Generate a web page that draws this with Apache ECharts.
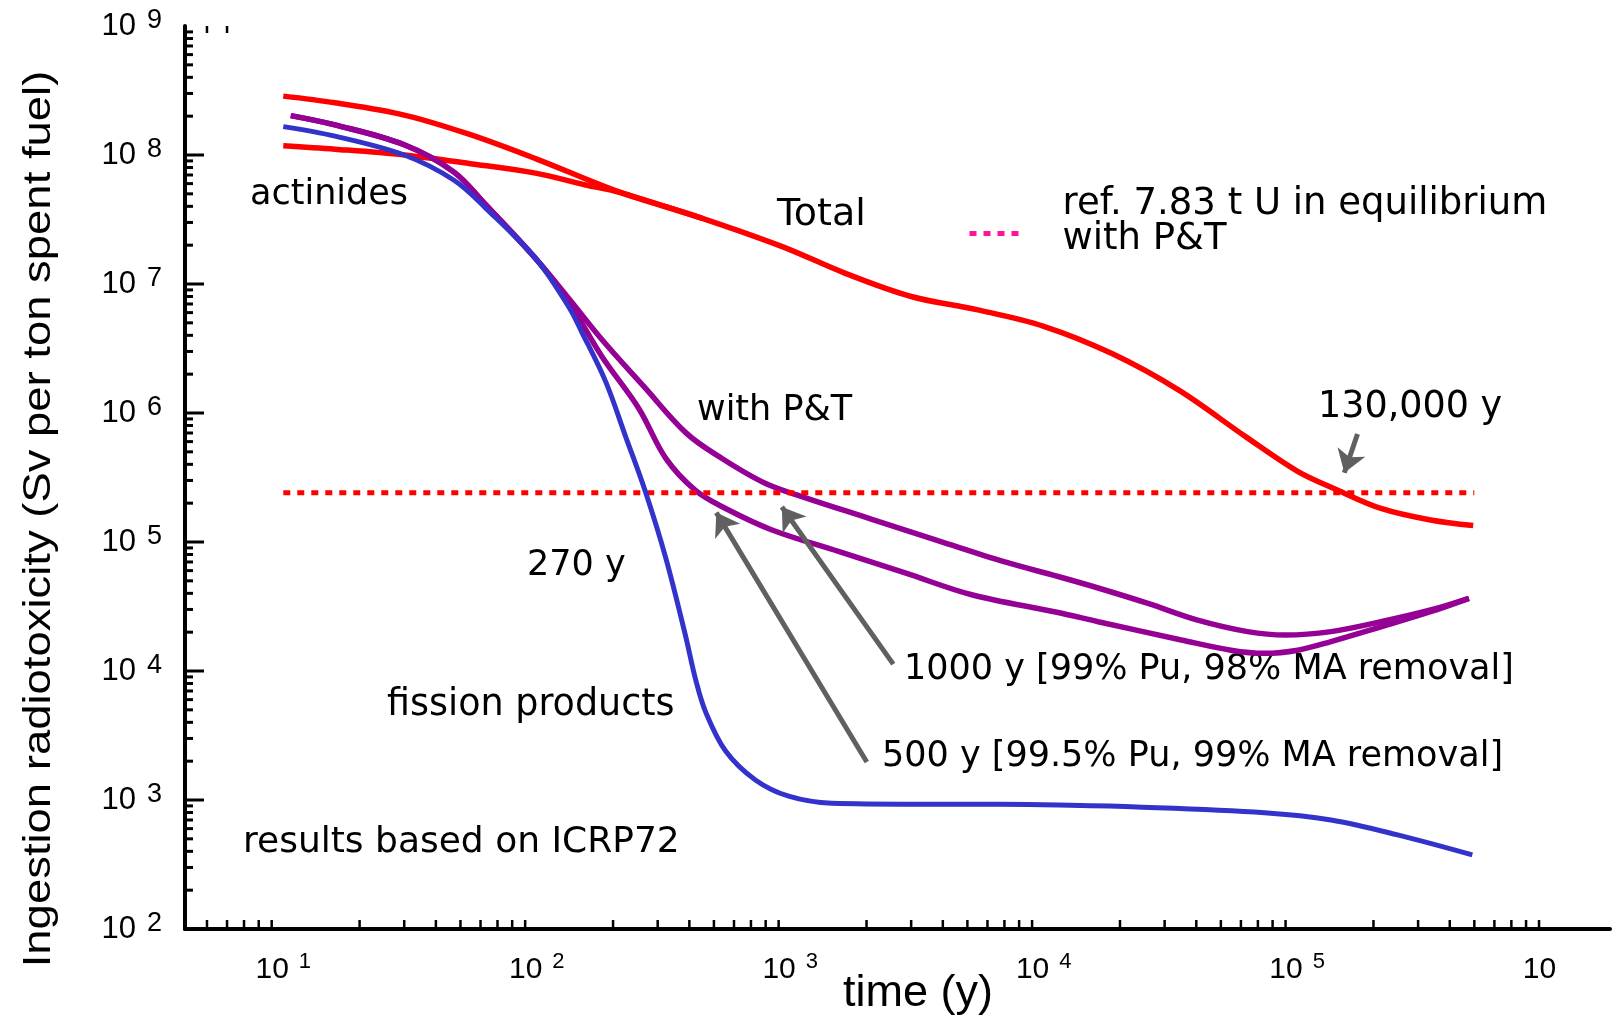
<!DOCTYPE html>
<html>
<head>
<meta charset="utf-8">
<script src="https://cdn.jsdelivr.net/npm/echarts@6/dist/echarts.min.js"></script>
<style>
  html, body { margin: 0; padding: 0; background: #fff; }
  #chart { width: 1613px; height: 1020px; }
</style>
</head>
<body>
<div id="chart"></div>
<script>
// axis ranges (years / Sv per ton)
var X_MIN = 4.095, X_MAX = 1714900;
var Y_MIN = 100, Y_MAX = 1e9;

// curves: [time (y), radiotoxicity]
var totalData = [
  [10, 2.86e8], [16, 2.54e8], [30, 2.04e8], [54, 1.45e8], [100, 9.3e7], [210, 5.2e7],
  [450, 3.23e7], [930, 1.95e7], [1650, 1.21e7], [3000, 8.0e6], [5500, 6.3e6], [10000, 4.7e6],
  [18500, 2.9e6], [34000, 1.51e6], [63000, 6.5e5], [100000, 3.55e5], [144000, 2.53e5],
  [214000, 1.82e5], [336000, 1.48e5], [495000, 1.34e5]
];
var actinideData = [
  [10, 1.18e8], [16, 1.11e8], [30, 1.0e8], [54, 8.6e7], [100, 7.2e7], [156, 5.85e7],
  [210, 5.15e7], [450, 3.22e7]
];
var fissionData = [
  [10, 1.66e8], [16, 1.40e8], [30, 1.0e8], [47, 6.4e7], [63, 3.86e7], [100, 1.54e7],
  [134, 6.6e6], [150, 4.3e6], [187, 1.75e6], [224, 6.6e5], [269, 2.42e5], [323, 7.5e4],
  [387, 1.85e4], [424, 8.5e3], [464, 4.8e3], [556, 2.4e3], [729, 1.43e3], [986, 1.07e3],
  [1460, 945], [3850, 927], [6620, 925], [11400, 916], [22200, 887], [74300, 798],
  [136000, 700], [249000, 536], [491000, 375]
];
// P&T, 1000 y [99% Pu, 98% MA removal]
var pt1000Data = [
  [10.7, 2.02e8], [16, 1.71e8], [30, 1.20e8], [47, 7.4e7], [63, 4.1e7], [100, 1.54e7],
  [134, 7.7e6], [181, 3.7e6], [265, 1.6e6], [390, 6.95e5], [538, 4.44e5], [800, 2.84e5],
  [1150, 2.2e5], [2100, 1.5e5], [3850, 1.02e5], [7030, 7.0e4], [11400, 5.4e4], [16400, 4.4e4],
  [25800, 3.34e4], [40500, 2.48e4], [63800, 2.02e4], [90000, 1.9e4], [136000, 2.02e4],
  [214000, 2.41e4], [336000, 2.97e4], [476000, 3.66e4]
];
// P&T, 500 y [99.5% Pu, 99% MA removal]
var pt500Data = [
  [10.7, 2.02e8], [16, 1.71e8], [30, 1.20e8], [47, 7.4e7], [63, 4.1e7], [100, 1.54e7],
  [134, 7.2e6], [181, 2.73e6], [253, 1.08e6], [323, 4.45e5], [424, 2.5e5], [556, 1.82e5],
  [848, 1.24e5], [1550, 8.45e4], [2840, 5.76e4], [5200, 3.9e4], [11400, 2.84e4],
  [16400, 2.41e4], [34900, 1.74e4], [54800, 1.45e4], [74300, 1.37e4], [100500, 1.45e4],
  [136000, 1.69e4], [214000, 2.2e4], [336000, 2.88e4], [476000, 3.66e4]
];
// reference level: 7.83 t U in equilibrium
var refData = [[10, 2.41e5], [500000, 2.41e5]];
var yellowDot = [[398, 1.51e4]];

// annotation arrows [tail, head]
var arrowData = [
  [[173000, 6.87e5], [153500, 3.44e5]],
  [[2550, 1.13e4], [927, 1.87e5]],
  [[2005, 1970], [511, 1.69e5]]
];

// ticks
var yMajorTicks = [1e2, 1e3, 1e4, 1e5, 1e6, 1e7, 1e8];
var minorSteps = [2, 3, 4, 5, 6, 7, 8, 9];
var yDecades = [1e2, 1e3, 1e4, 1e5, 1e6, 1e7, 1e8];
var xDecades = [1, 10, 100, 1000, 10000, 100000];
var topTicks = [5, 6];

var refName = 'ref. 7.83 t U in equilibrium\nwith P&T';

// text, x, y, font size
var notes = [
  ['actinides', 250, 195, 35],
  ['Total', 777, 215, 38],
  ['with P&T', 697, 411, 35],
  ['130,000 y', 1318, 408, 36.5],
  ['270 y', 527, 566, 35],
  ['1000 y [99% Pu, 98% MA removal]', 904, 670, 35],
  ['fission products', 387, 706, 36.5],
  ['500 y [99.5% Pu, 99% MA removal]', 882, 757, 35],
  ['results based on ICRP72', 243, 843, 36]
];

var yMinorTicks = [], xMinorTicks = [];
yDecades.forEach(function (d) { minorSteps.forEach(function (m) { yMinorTicks.push(m * d); }); });
xDecades.forEach(function (d) {
  minorSteps.forEach(function (m) { if (m * d > X_MIN && m * d < X_MAX) xMinorTicks.push(m * d); });
});

function powLabel(v, hideAbove) {
  var e = Math.log10(v), r = Math.round(e);
  if (Math.abs(e - r) > 1e-6) return '';
  if (hideAbove && r >= hideAbove) return '{b|10}{h|' + r + '}';
  return '{b|10}{e|' + r + '}';
}

function tickSeries(data, width) {
  return {
    type: 'custom',
    silent: true,
    clip: false,
    z: 10,
    data: data,
    renderItem: function (params, api) {
      var p = api.coord([api.value(0), api.value(1)]);
      return {
        type: 'line',
        shape: { x1: p[0], y1: p[1], x2: p[0] + api.value(2), y2: p[1] + api.value(3) },
        style: { stroke: '#000', lineWidth: width }
      };
    }
  };
}

var yTickData = yMajorTicks.map(function (v) { return [X_MIN, v, 19, 0]; })
  .concat(yMinorTicks.map(function (v) { return [X_MIN, v, 8, 0]; }));
var xTickData = xMinorTicks.map(function (v) { return [v, Y_MIN, 0, -9]; });
var topTickData = topTicks.map(function (v) { return [v, Y_MAX, 0, 7]; });

var noteFont = 'DejaVu Sans';
var graphics = notes.map(function (n) {
  return {
    type: 'text', x: n[1], y: n[2], silent: true,
    style: { text: n[0], fill: '#000', fontFamily: noteFont, fontSize: n[3], align: 'left', verticalAlign: 'middle' }
  };
});
graphics.push({
  type: 'text', x: 39.5, y: 519, rotation: Math.PI / 2, scaleX: 1.165, silent: true,
  style: {
    text: 'Ingestion radiotoxicity (Sv per ton spent fuel)', fill: '#000',
    fontFamily: 'Liberation Sans', fontSize: 39, align: 'center', verticalAlign: 'middle'
  }
});
graphics.push({
  type: 'text', x: 918, y: 994, silent: true,
  style: { text: 'time (y)', fill: '#000', fontFamily: 'Liberation Sans', fontSize: 45, align: 'center', verticalAlign: 'middle' }
});

var chart = echarts.init(document.getElementById('chart'));
chart.setOption({
  animation: false,
  backgroundColor: '#fff',
  grid: { left: 185, right: 0, top: 26, bottom: 91 },
  xAxis: {
    type: 'log', min: X_MIN, max: X_MAX,
    axisLine: { onZero: false, lineStyle: { color: '#000', width: 4 } },
    axisTick: { show: false },
    splitLine: { show: false },
    axisLabel: {
      margin: 22,
      formatter: function (v) { return powLabel(v, 6); },
      rich: {
        b: { fontFamily: 'Liberation Sans', fontSize: 30, lineHeight: 38, color: '#000' },
        e: { fontFamily: 'Liberation Sans', fontSize: 22, lineHeight: 22, verticalAlign: 'top', padding: [0, 0, 0, 10], color: '#000' },
        h: { fontFamily: 'Liberation Sans', fontSize: 22, lineHeight: 22, verticalAlign: 'top', padding: [0, 0, 0, 10], color: 'rgba(0,0,0,0)' }
      }
    }
  },
  yAxis: {
    type: 'log', min: Y_MIN, max: Y_MAX,
    axisLine: { onZero: false, lineStyle: { color: '#000', width: 4 } },
    axisTick: { show: false },
    splitLine: { show: false },
    axisLabel: {
      margin: 23,
      formatter: function (v) { return powLabel(v); },
      rich: {
        b: { fontFamily: 'Liberation Sans', fontSize: 31, lineHeight: 38, color: '#000' },
        e: { fontFamily: 'Liberation Sans', fontSize: 27, lineHeight: 26, verticalAlign: 'top', padding: [0, 0, 0, 11], color: '#000' }
      }
    }
  },
  legend: {
    left: 967, top: 186, padding: 0, itemWidth: 51, itemHeight: 14, selectedMode: false,
    data: [{
      name: refName,
      itemStyle: { color: '#ff1493', opacity: 0 },
      lineStyle: { color: '#ff1493', width: 5, type: [7, 7] }
    }],
    formatter: function (name) { return name + '\n{s| }'; },
    textStyle: {
      fontFamily: noteFont, fontSize: 37, lineHeight: 35, color: '#000', padding: [0, 0, 0, 37],
      rich: { s: { fontSize: 10, lineHeight: 23 } }
    }
  },
  graphic: graphics,
  series: [
    {
      name: 'Total', type: 'line', data: totalData, symbol: 'none', smooth: 0.35,
      lineStyle: { color: '#ff0000', width: 5.5 }, itemStyle: { color: '#ff0000' }
    },
    {
      name: 'actinides', type: 'line', data: actinideData, symbol: 'none', smooth: 0.35,
      lineStyle: { color: '#ff0000', width: 5.5 }, itemStyle: { color: '#ff0000' }
    },
    {
      name: '1000 y', type: 'line', data: pt1000Data, symbol: 'none', smooth: 0.35,
      lineStyle: { color: '#950095', width: 5.5 }, itemStyle: { color: '#950095' }
    },
    {
      name: '500 y', type: 'line', data: pt500Data, symbol: 'none', smooth: 0.35,
      lineStyle: { color: '#950095', width: 5.5 }, itemStyle: { color: '#950095' }
    },
    {
      name: refName, type: 'line', data: refData, symbol: 'none',
      lineStyle: { color: '#ff0000', width: 5, type: [7, 7] }, itemStyle: { color: '#ff0000' }
    },
    {
      name: 'fission products', type: 'line', data: fissionData, symbol: 'none', smooth: 0.35,
      lineStyle: { color: '#3333cc', width: 5 }, itemStyle: { color: '#3333cc' }
    },
    {
      name: 'dot', type: 'scatter', data: yellowDot, symbolSize: 4, silent: true,
      itemStyle: { color: '#ffff00' }
    },
    {
      name: 'arrows', type: 'lines', coordinateSystem: 'cartesian2d', silent: true, z: 5,
      data: arrowData.map(function (a) { return { coords: a }; }),
      symbol: ['none', 'arrow'], symbolSize: [13, 22],
      lineStyle: { color: '#606060', width: 5, opacity: 1 }, itemStyle: { color: '#606060' }
    },
    tickSeries(yTickData, 3),
    tickSeries(xTickData, 2.5),
    tickSeries(topTickData, 2.5)
  ]
});
</script>
</body>
</html>
